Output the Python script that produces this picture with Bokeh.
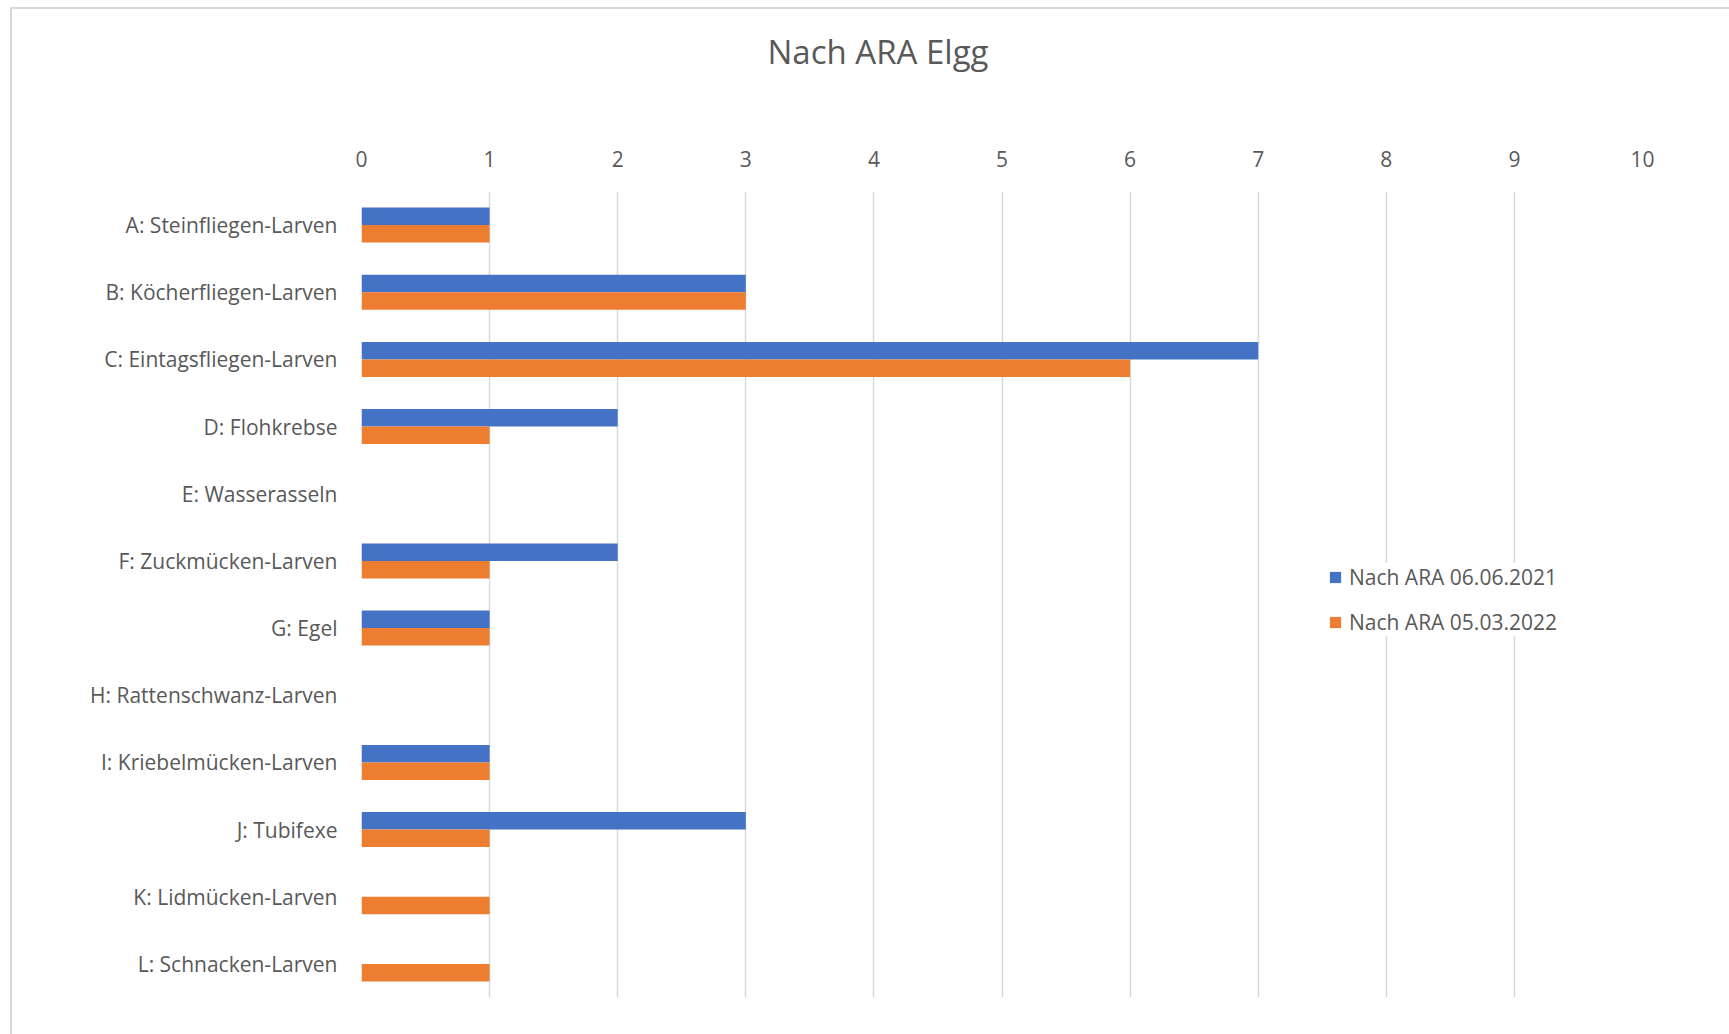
from bokeh.plotting import figure
from bokeh.models import (FactorRange, Range1d, FixedTicker, Legend, LegendItem,
                          ColumnDataSource)
from bokeh.transform import dodge
from bokeh.embed import file_html
from bokeh.resources import INLINE

# Taxa found below the sewage plant (ARA Elgg) on two sampling dates
categories = [
    "A: Steinfliegen-Larven",
    "B: Köcherfliegen-Larven",
    "C: Eintagsfliegen-Larven",
    "D: Flohkrebse",
    "E: Wasserasseln",
    "F: Zuckmücken-Larven",
    "G: Egel",
    "H: Rattenschwanz-Larven",
    "I: Kriebelmücken-Larven",
    "J: Tubifexe",
    "K: Lidmücken-Larven",
    "L: Schnacken-Larven",
]
series_names = ["Nach ARA 06.06.2021", "Nach ARA 05.03.2022"]
counts_2021 = [1, 3, 7, 2, 0, 2, 1, 0, 1, 3, 0, 0]
counts_2022 = [1, 3, 6, 1, 0, 1, 1, 0, 1, 1, 1, 1]
x_ticks = [0, 1, 2, 3, 4, 5, 6, 7, 8, 9, 10]
title_text = "Nach ARA Elgg"

BLUE = "#4472C4"
ORANGE = "#ED7D31"
TEXT = "#595959"
GRID = "#D9D9D9"
FONT = "Open Sans"
LABEL_SIZE = "21px"

source = ColumnDataSource(dict(cat=categories, a=counts_2021, b=counts_2022))

p = figure(
    width=1729, height=1034,
    output_backend="svg", toolbar_location=None,
    x_axis_location="above",
    x_range=Range1d(x_ticks[0], x_ticks[-1]),
    y_range=FactorRange(factors=categories[::-1]),
    min_border_left=361, min_border_right=87,
    min_border_top=191, min_border_bottom=37,
    background_fill_color="white",
)
p.outline_line_color = None
# transparent surround so the chart-area border drawn by the host shows through
p.border_fill_color = None
p.styles = {
    "background-color": "white",
    "box-shadow": "inset 10px 7px 0 0 #ffffff, inset 12px 9px 0 0 " + GRID,
}

# chart title, centred over the whole chart area
p.title.text = title_text
p.title.align = "left"
p.title.vertical_align = "top"
p.title.offset = 406
p.title.standoff = 52
p.title.padding = dict(left=0, right=0, top=0, bottom=46)
p.title.text_font = FONT
p.title.text_font_size = "33px"
p.title.text_font_style = "normal"
p.title.text_color = TEXT

bar_h = 0.26
r1 = p.hbar(y=dodge("cat", bar_h / 2, range=p.y_range), right="a", left=0,
            height=bar_h, source=source, fill_color=BLUE, line_color=None)
r2 = p.hbar(y=dodge("cat", -bar_h / 2, range=p.y_range), right="b", left=0,
            height=bar_h, source=source, fill_color=ORANGE, line_color=None)

# axes
xa = p.xaxis[0]
xa.ticker = FixedTicker(ticks=x_ticks)
xa.axis_line_color = None
xa.major_tick_line_color = None
xa.minor_tick_line_color = None
xa.major_label_text_font = FONT
xa.major_label_text_font_size = LABEL_SIZE
xa.major_label_text_color = TEXT
xa.major_label_standoff = 19

ya = p.yaxis[0]
ya.axis_line_color = None
ya.major_tick_line_color = None
ya.minor_tick_line_color = None
ya.major_label_text_font = FONT
ya.major_label_text_font_size = LABEL_SIZE
ya.major_label_text_color = TEXT
ya.major_label_standoff = 18

p.xgrid.grid_line_color = GRID
p.xgrid.grid_line_width = 1.5
p.ygrid.grid_line_color = None

# legend
legend = Legend(
    items=[LegendItem(label=series_names[0], renderers=[r1]),
           LegendItem(label=series_names[1], renderers=[r2])],
    location=(967, 361),
    orientation="vertical",
    glyph_width=14, glyph_height=14,
    label_height=24, label_standoff=7,
    spacing=17, padding=12, margin=0,
    label_text_font=FONT, label_text_font_size=LABEL_SIZE,
    label_text_color=TEXT,
    border_line_color=None, background_fill_color="white",
    background_fill_alpha=1.0,
)
p.add_layout(legend)

open("out.html", "w").write(file_html(p, INLINE))
